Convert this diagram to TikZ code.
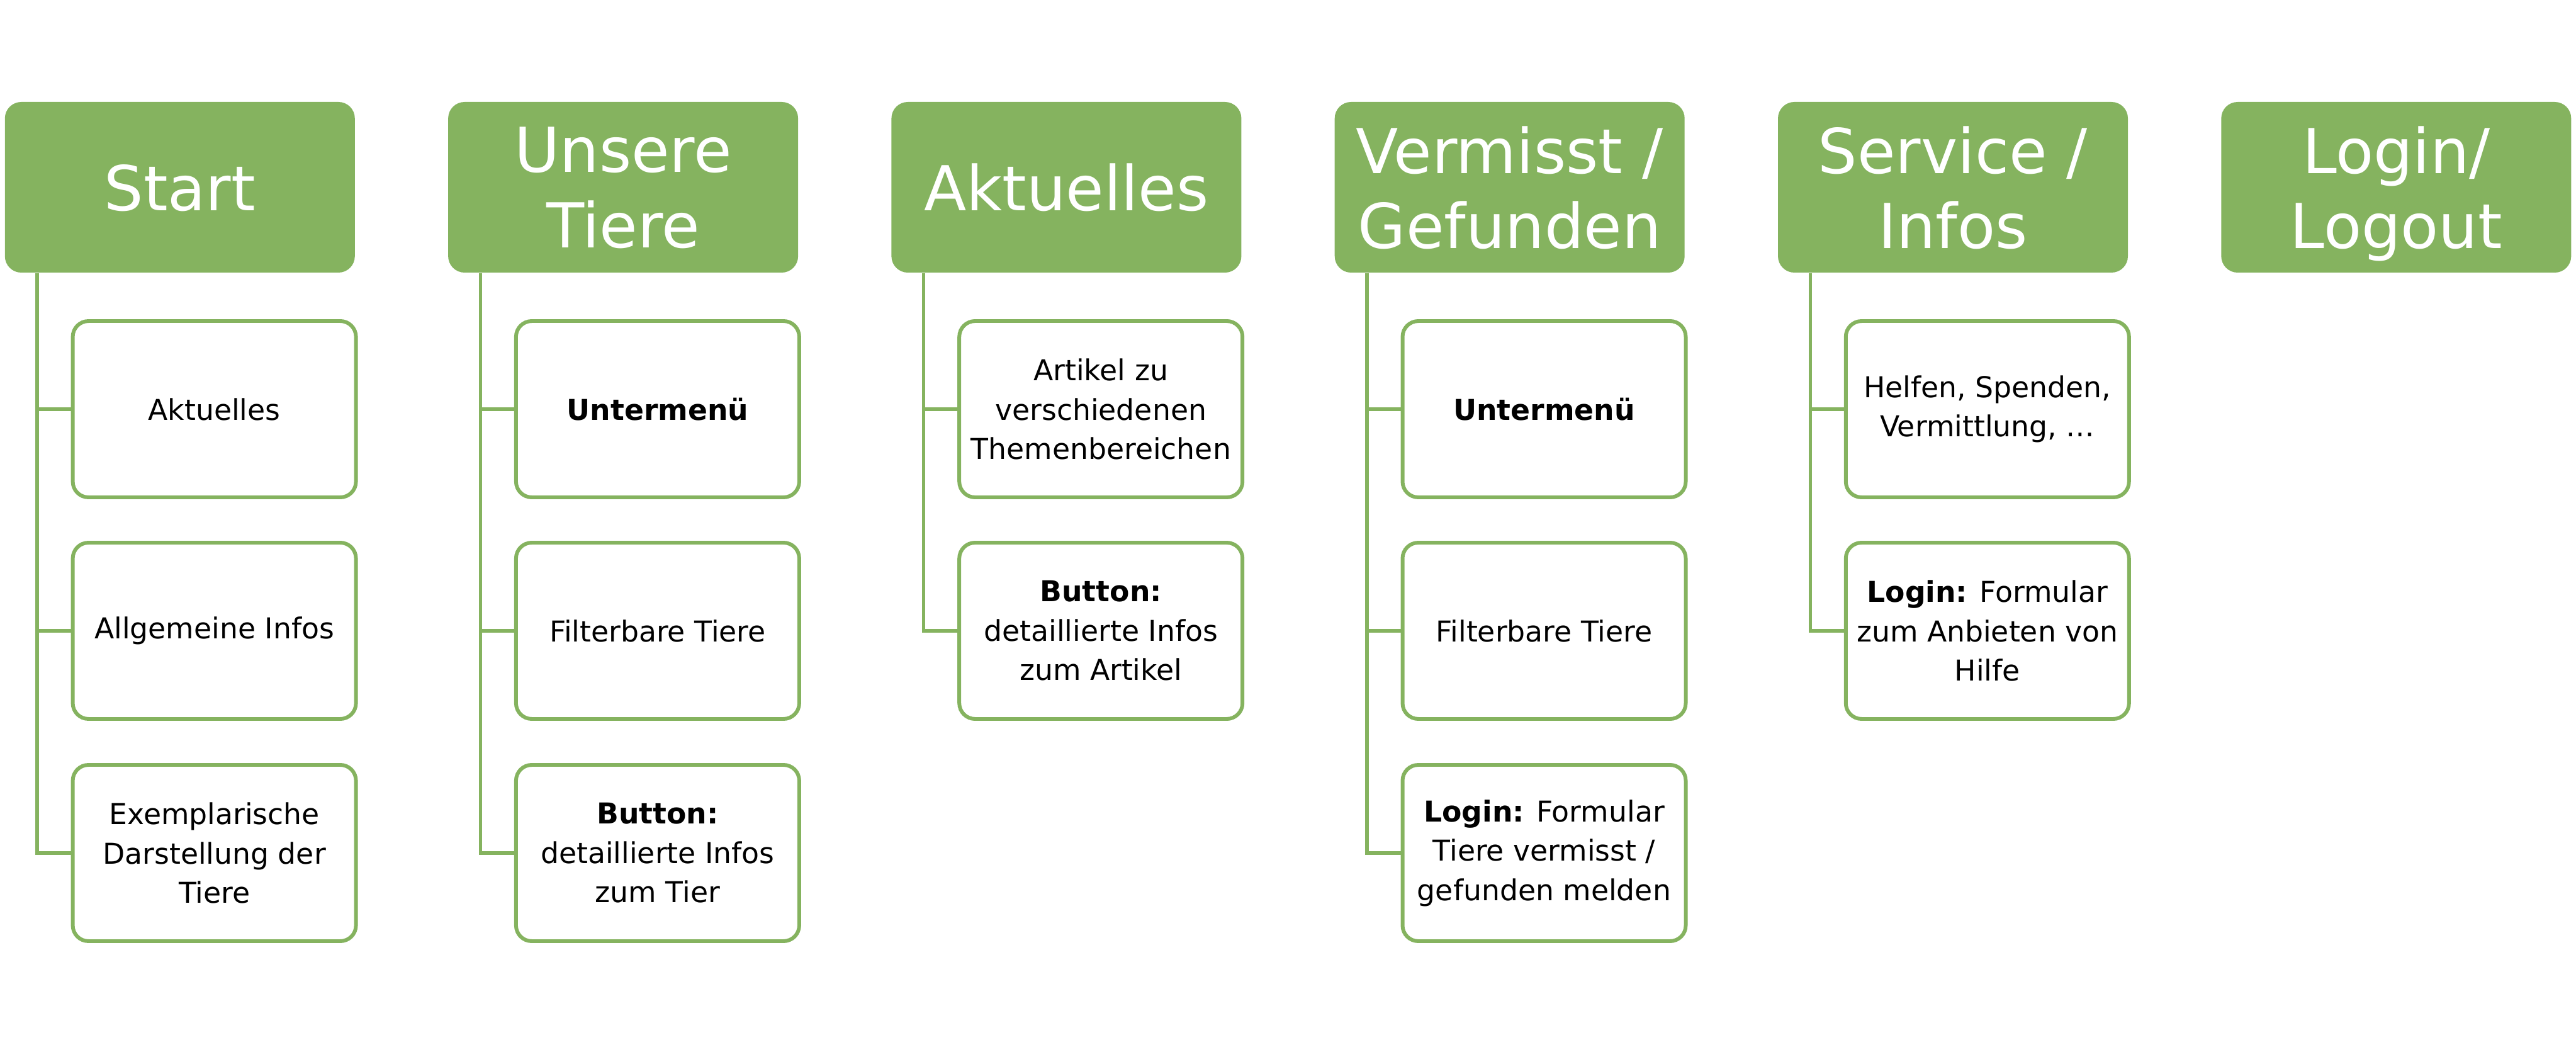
\documentclass[tikz,border=0pt]{standalone}
\usepackage{fontspec}
\setmainfont{DejaVu Sans}
\usepackage{tikz}

\definecolor{menugreen}{HTML}{85B35F}

\tikzset{
  head/.style = {shape = rectangle, rounded corners = 0.26cm, fill = menugreen, text = white,
                 minimum width = 5.56cm, minimum height = 2.71cm, inner sep = 0pt, align = center,
                 text depth = 0pt, font = \fontsize{28}{34}\selectfont},
  sub/.style = {shape = rectangle, rounded corners = 0.25cm, draw = menugreen, line width = 1.7pt, fill = white,
                minimum width = 4.5cm, minimum height = 2.8cm, inner sep = 0pt, align = center,
                font = \fontsize{13}{17.8}\selectfont},
  link/.style = {draw = menugreen, line width = 1.5pt}
}

\begin{document}
\begin{tikzpicture}
\useasboundingbox (0,0) rectangle (40.93,-16.52);

\node (start) at (2.858,-2.975) [head] {Start};
\node (tiere) at (9.901,-2.975) [head] {Unsere\\Tiere};
\node (news) at (16.944,-2.975) [head] {Aktuelles};
\node (lost) at (23.987,-2.975) [head] {Vermisst /\\Gefunden};
\node (service) at (31.030,-2.975) [head] {Service /\\Infos};
\node (login) at (38.073,-2.975) [head] {Login/\\Logout};

\node (start1) at (3.406,-6.50) [sub] {Aktuelles};
\node (start2) at (3.406,-10.02) [sub] {Allgemeine Infos};
\node (start3) at (3.406,-13.55) [sub] {Exemplarische\\Darstellung der\\Tiere};

\node (tiere1) at (10.449,-6.50) [sub] {\textbf{Untermenü}};
\node (tiere2) at (10.449,-10.02) [sub] {Filterbare Tiere};
\node (tiere3) at (10.449,-13.55) [sub] {\textbf{Button:}\\detaillierte Infos\\zum Tier};

\node (news1) at (17.492,-6.50) [sub] {Artikel zu\\verschiedenen\\Themenbereichen};
\node (news2) at (17.492,-10.02) [sub] {\textbf{Button:}\\detaillierte Infos\\zum Artikel};

\node (lost1) at (24.535,-6.50) [sub] {\textbf{Untermenü}};
\node (lost2) at (24.535,-10.02) [sub] {Filterbare Tiere};
\node (lost3) at (24.535,-13.55) [sub] {\textbf{Login:} Formular\\Tiere vermisst /\\gefunden melden};

\node (service1) at (31.578,-6.50) [sub] {Helfen, Spenden,\\Vermittlung, …};
\node (service2) at (31.578,-10.02) [sub] {\textbf{Login:} Formular\\zum Anbieten von\\Hilfe};

% tree lines
\path [link] ([xshift=0.52cm]start.south west) |- (start1.west);
\path [link] ([xshift=0.52cm]start.south west) |- (start2.west);
\path [link] ([xshift=0.52cm]start.south west) |- (start3.west);
\path [link] ([xshift=0.52cm]tiere.south west) |- (tiere1.west);
\path [link] ([xshift=0.52cm]tiere.south west) |- (tiere2.west);
\path [link] ([xshift=0.52cm]tiere.south west) |- (tiere3.west);
\path [link] ([xshift=0.52cm]news.south west) |- (news1.west);
\path [link] ([xshift=0.52cm]news.south west) |- (news2.west);
\path [link] ([xshift=0.52cm]lost.south west) |- (lost1.west);
\path [link] ([xshift=0.52cm]lost.south west) |- (lost2.west);
\path [link] ([xshift=0.52cm]lost.south west) |- (lost3.west);
\path [link] ([xshift=0.52cm]service.south west) |- (service1.west);
\path [link] ([xshift=0.52cm]service.south west) |- (service2.west);

\end{tikzpicture}
\end{document}
